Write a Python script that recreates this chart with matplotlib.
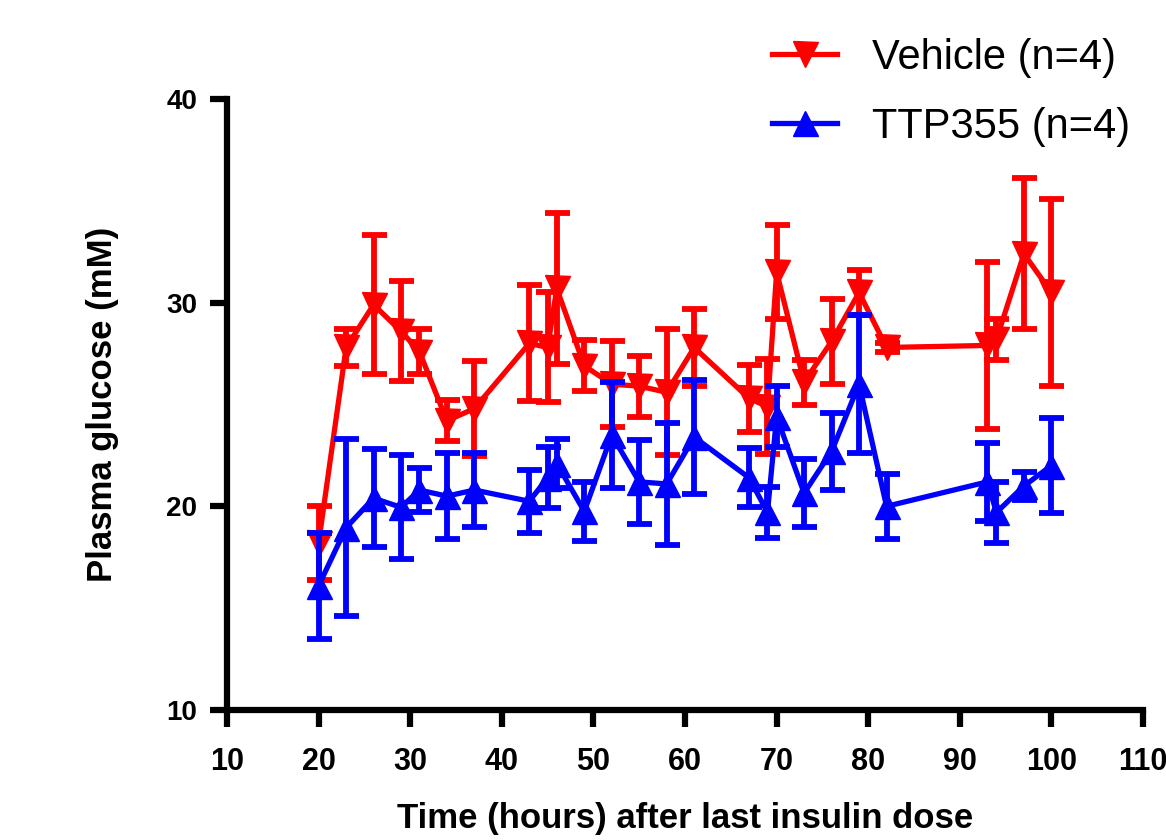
import matplotlib
matplotlib.use('Agg')
import matplotlib.pyplot as plt

plt.rcParams['font.family'] = ['Liberation Sans', 'DejaVu Sans']

# Time points (hours after last insulin dose)
hours = [20, 23, 26, 29, 31, 34, 37, 43, 45, 46, 49, 52, 55, 58, 61,
         67, 69, 70, 73, 76, 79, 82, 93, 94, 97, 100]

# Vehicle (n=4): mean and SEM
vehicle_mean = [18.2, 27.8, 29.9, 28.6, 27.6, 24.2, 24.8, 28.0, 27.8, 30.7, 26.9, 26.0, 25.9,
                25.6, 27.8, 25.3, 24.9, 31.5, 26.1, 28.1, 30.5, 27.8, 27.9, 28.2, 32.4, 30.5]
vehicle_err = [1.8, 0.9, 3.4, 2.45, 1.1, 1.0, 2.35, 2.85, 2.7, 3.7, 1.25, 2.1, 1.5,
               3.1, 1.9, 1.65, 2.35, 2.3, 1.1, 2.1, 1.1, 0.2, 4.1, 1.0, 3.7, 4.6]

# TTP355 (n=4): mean and SEM
ttp_mean = [16.1, 18.95, 20.4, 19.95, 20.8, 20.5, 20.8, 20.25, 21.4, 22.1, 19.75, 23.5, 21.2,
            21.1, 23.4, 21.4, 19.7, 24.4, 20.65, 22.7, 26.0, 20.0, 21.2, 19.7, 21.0, 22.0]
ttp_err = [2.6, 4.35, 2.4, 2.55, 1.1, 2.1, 1.8, 1.55, 1.5, 1.2, 1.45, 2.6, 2.05,
           3.0, 2.8, 1.45, 1.25, 1.5, 1.65, 1.9, 3.4, 1.6, 1.9, 1.5, 0.7, 2.35]

fig = plt.figure(figsize=(11.66, 8.4), dpi=100)
ax = fig.add_axes([0.1947, 0.1548, 0.7856, 0.7273])

style = dict(linewidth=3.8, markersize=18, elinewidth=4.2, capsize=9, capthick=4.2)
veh = ax.errorbar(hours, vehicle_mean, yerr=vehicle_err, fmt='v-', color='#FF0000',
                  label='Vehicle (n=4)', zorder=2, **style)
ttp = ax.errorbar(hours, ttp_mean, yerr=ttp_err, fmt='^-', color='#0000FF',
                  label='TTP355 (n=4)', zorder=3, **style)
for c in (veh, ttp):
    c[0].set_clip_on(False)

ax.set_xlim(10, 110)
ax.set_ylim(10, 40)
ax.set_xticks(range(10, 111, 10))
ax.set_yticks([10, 20, 30, 40])

for side in ['top', 'right']:
    ax.spines[side].set_visible(False)
for side in ['left', 'bottom']:
    ax.spines[side].set_linewidth(4.5)

ax.tick_params(axis='both', direction='out', width=4.5, length=12.5)
ax.tick_params(axis='x', pad=14, labelsize=22)
ax.tick_params(axis='y', pad=9, labelsize=20)
for lab in ax.get_xticklabels() + ax.get_yticklabels():
    lab.set_fontweight('bold')

ax.set_xlabel('Time (hours) after last insulin dose', fontsize=25, fontweight='bold',
              labelpad=18)
ax.set_ylabel('Plasma glucose (mM)', fontsize=25, fontweight='bold', labelpad=34)

ax.legend(handles=[veh[0], ttp[0]], labels=['Vehicle (n=4)', 'TTP355 (n=4)'],
          loc='upper left', bbox_to_anchor=(0.641, 0.985), bbox_transform=fig.transFigure,
          frameon=False, fontsize=30, handlelength=1.55, handletextpad=0.85,
          labelspacing=0.7, numpoints=1, borderaxespad=0.2)

plt.savefig('out.png', dpi=100)
